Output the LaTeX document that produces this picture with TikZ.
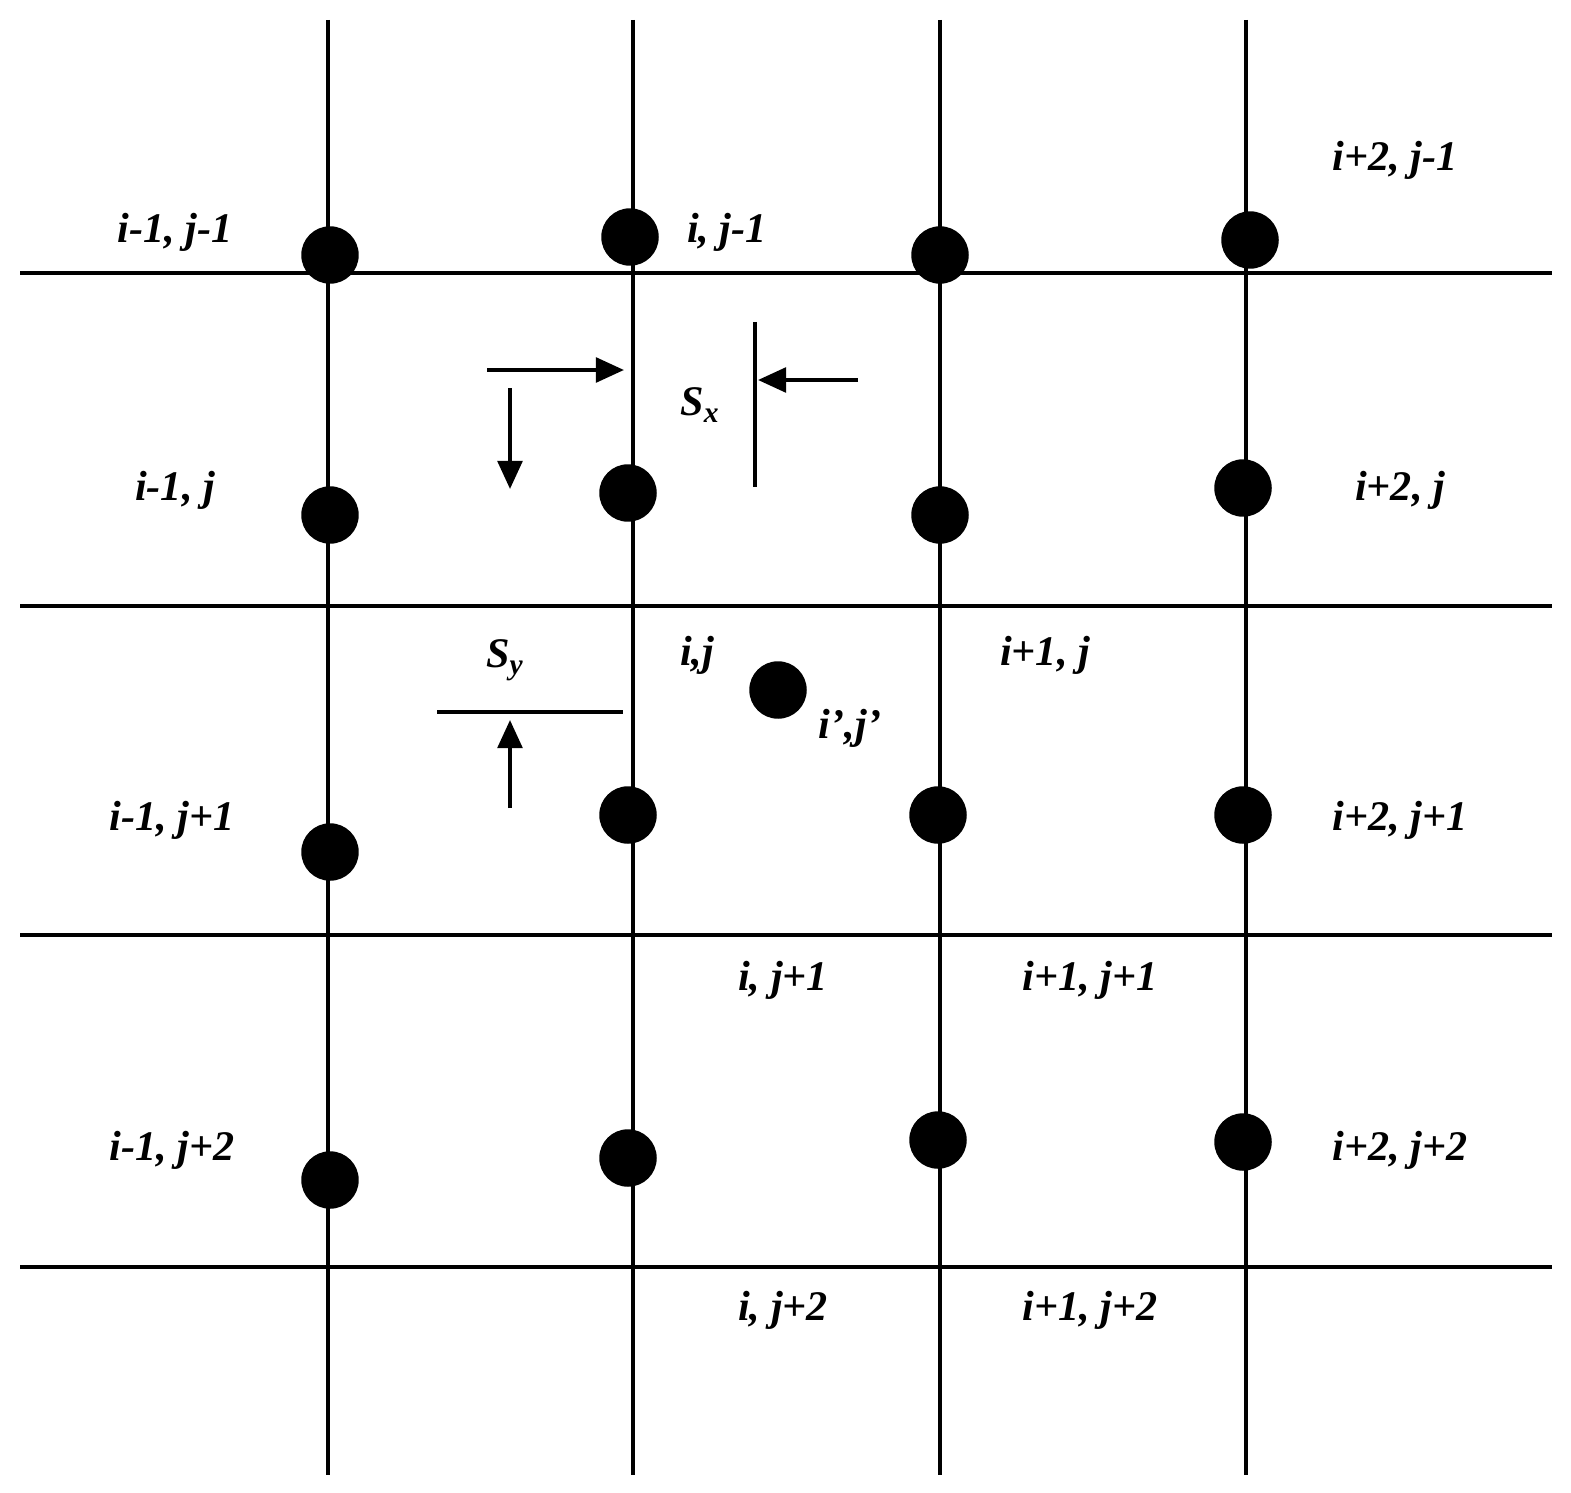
\documentclass[tikz,border=0pt]{standalone}
\usepackage{fontspec}
\setmainfont{Liberation Serif}
\usetikzlibrary{arrows.meta}
\begin{document}
\begin{tikzpicture}[x=0.02cm,y=-0.02cm,
  grid/.style={line width=2.3pt},
  dot/.style={circle,fill=black,minimum size=1.15cm,inner sep=0pt},
  lab/.style={font=\fontsize{24}{28}\selectfont\bfseries\itshape,inner sep=0pt},
  arr/.style={line width=2.3pt,-{Triangle[length=16pt,width=14pt]}}]
\useasboundingbox (0,0) rectangle (1571,1493);
\foreach \x/\n in {328/a,633/b,940/c,1246/d} \draw[grid] (\x,20) -- (\x,1475);
\foreach \y in {273,606,935,1267} \draw[grid] (20,\y) -- (1552,\y);
\foreach \p/\q [count=\k] in {330/255,630/237,940/255,1250/240,330/515,628/493,940/515,1243/488,778/690,330/852,628/815,938/815,1243/815,330/1180,628/1158,938/1140,1243/1142}
  \node[dot] (d\k) at (\p,\q) {};
\node[lab] (l1) at (175,232) {i-1, j-1};
\node[lab] (l2) at (727,232) {i, j-1};
\node[lab] (l3) at (1395,160) {i+2, j-1};
\node[lab] (l4) at (175,490) {i-1, j};
\node[lab] (l5) at (1400,490) {i+2, j};
\node[lab] (l6) at (697,655) {i,j};
\node[lab] (l7) at (1045,655) {i+1, j};
\node[lab] (l8) at (850,728) {i’,j’};
\node[lab] (l9) at (172,820) {i-1, j+1};
\node[lab] (l10) at (1400,820) {i+2, j+1};
\node[lab] (l11) at (783,980) {i, j+1};
\node[lab] (l12) at (1090,980) {i+1, j+1};
\node[lab] (l13) at (172,1150) {i-1, j+2};
\node[lab] (l14) at (1400,1150) {i+2, j+2};
\node[lab] (l15) at (783,1310) {i, j+2};
\node[lab] (l16) at (1090,1310) {i+1, j+2};
\node[lab] (sx) at (700,405) {S\textsubscript{x}};
\node[lab] (sy) at (505,660) {S\textsubscript{y}};
\coordinate (a1) at (487,370); \coordinate (a2) at (624,370);
\draw[arr] (a1) -- (a2);
\coordinate (b1) at (510,388); \coordinate (b2) at (510,489);
\draw[arr] (b1) -- (b2);
\coordinate (c1) at (755,322); \coordinate (c2) at (755,487);
\draw[grid] (c1) -- (c2);
\coordinate (e1) at (858,380); \coordinate (e2) at (758,380);
\draw[arr] (e1) -- (e2);
\coordinate (f1) at (437,712); \coordinate (f2) at (623,712);
\draw[grid] (f1) -- (f2);
\coordinate (g1) at (510,808); \coordinate (g2) at (510,720);
\draw[arr] (g1) -- (g2);
\end{tikzpicture}
\end{document}
